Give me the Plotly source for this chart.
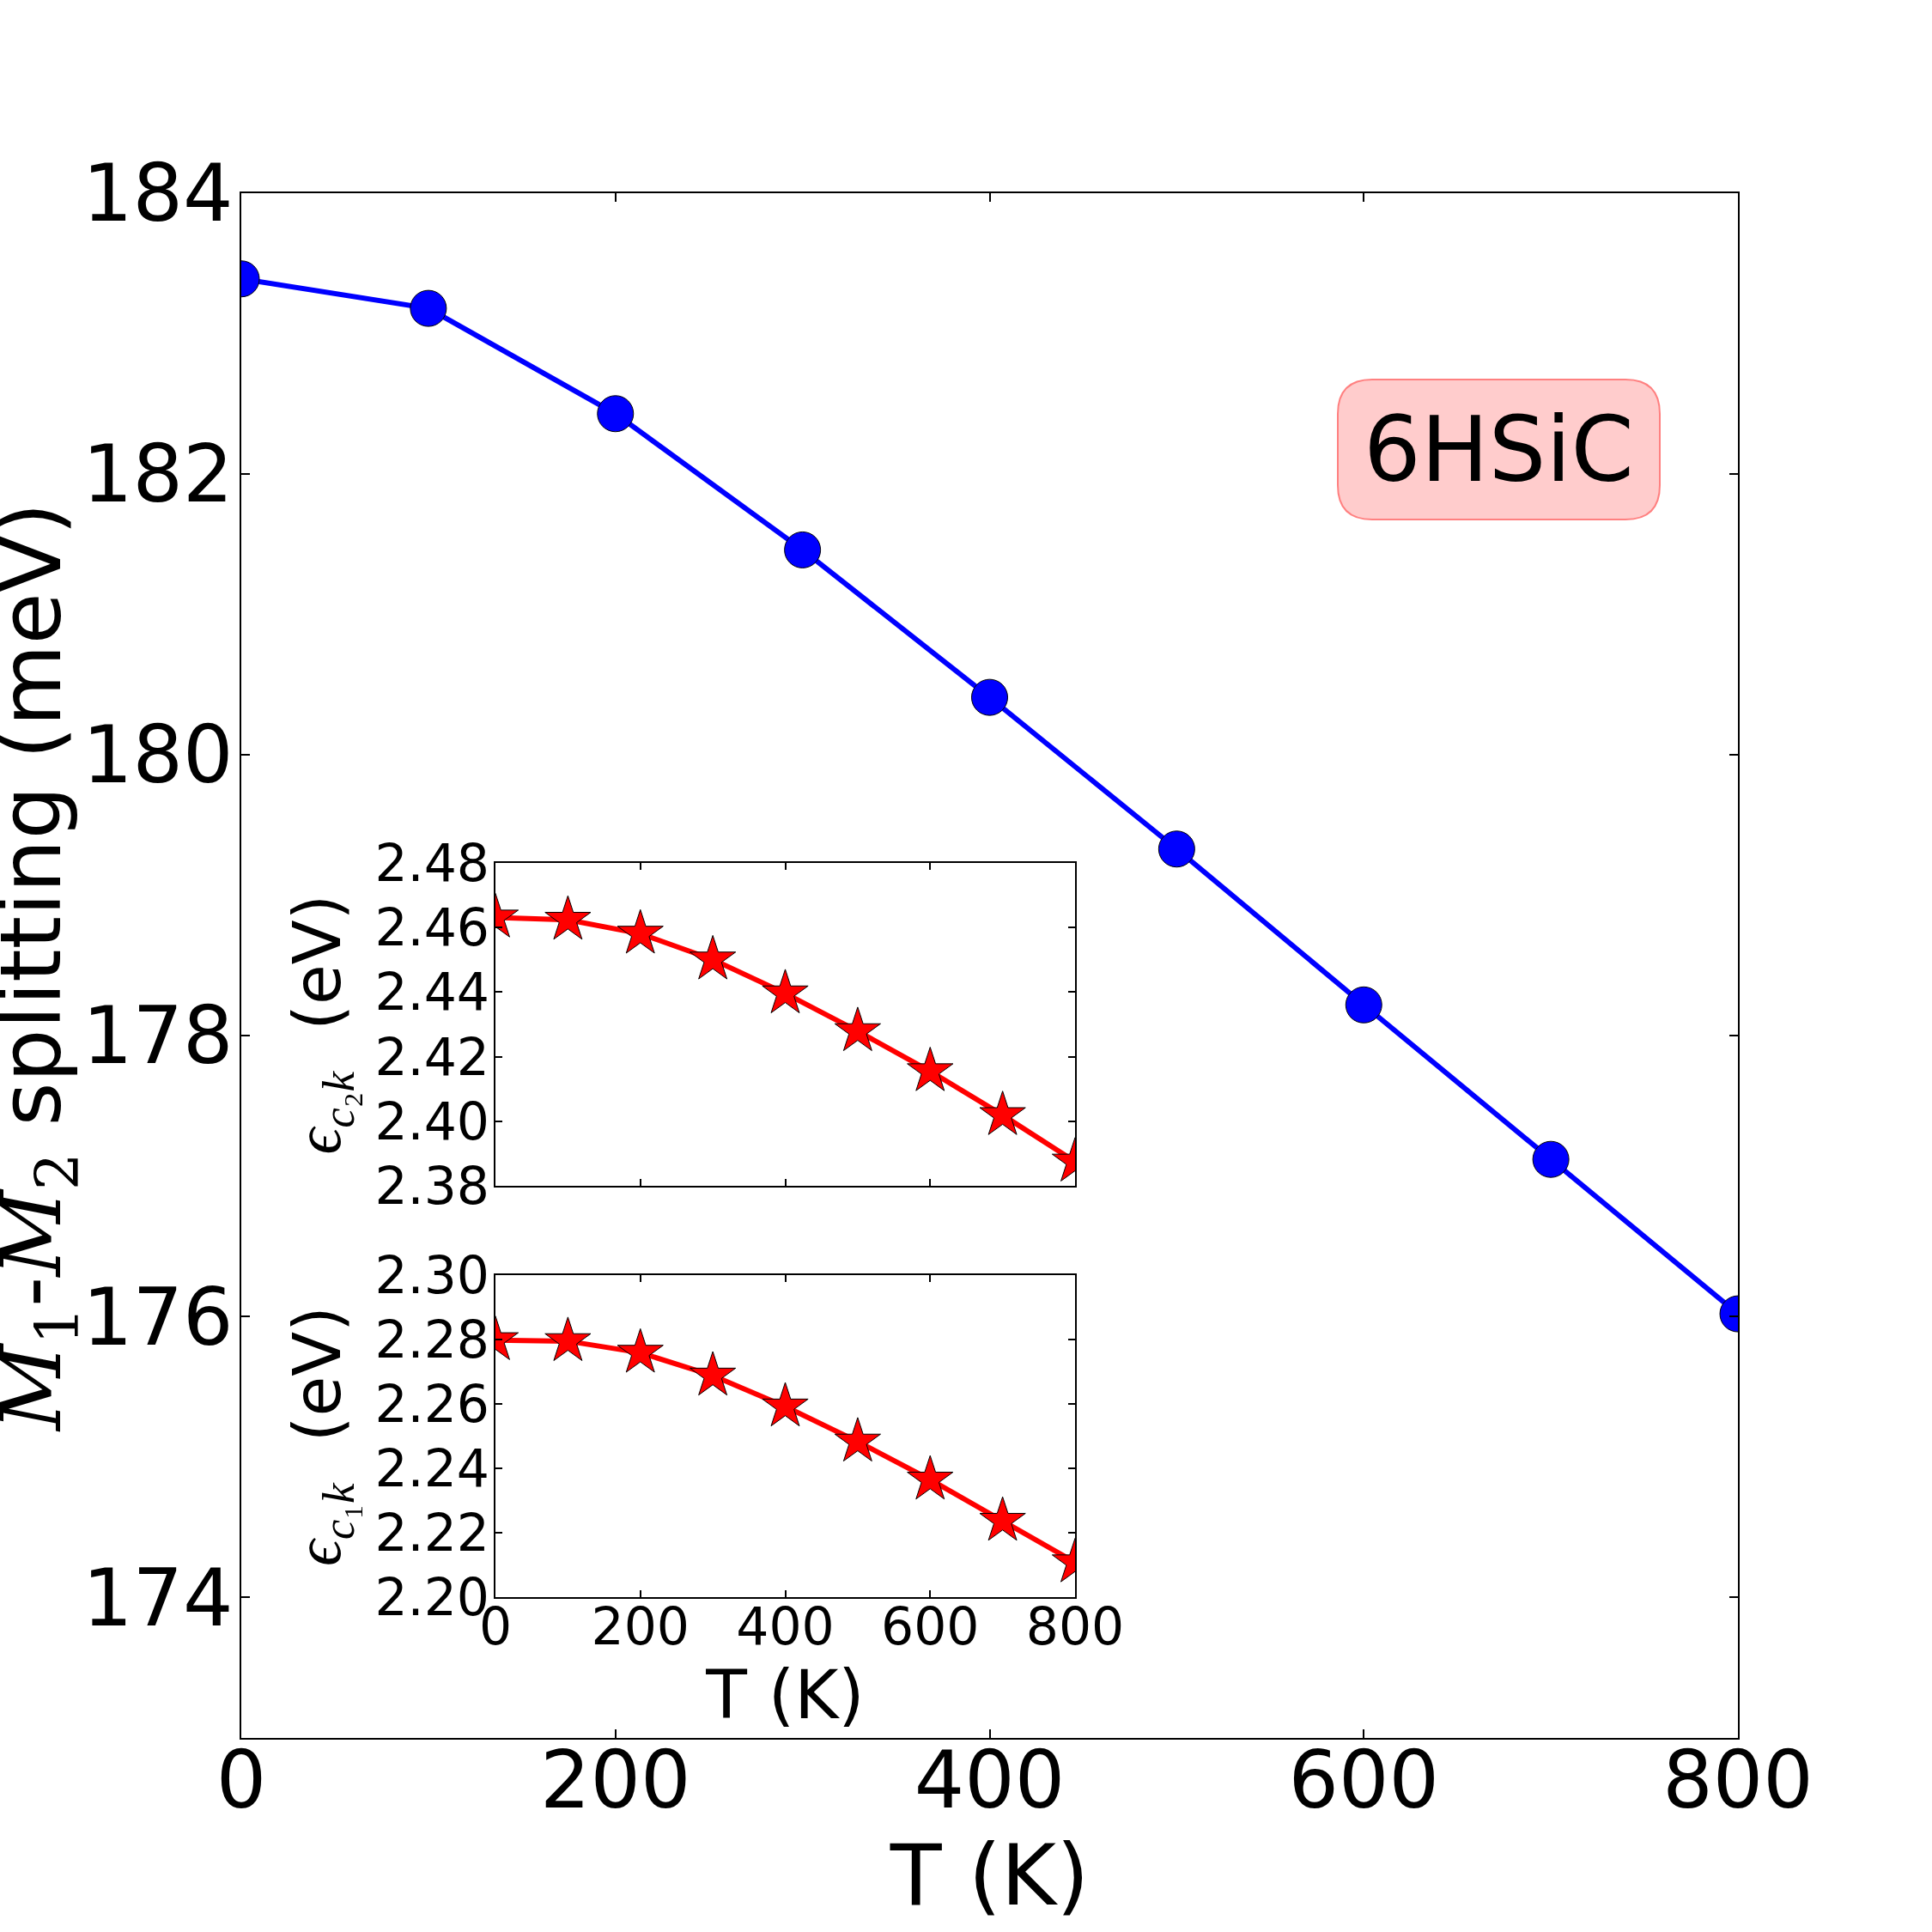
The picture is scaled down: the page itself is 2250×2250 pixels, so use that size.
import plotly.graph_objects as go

# ---------------- data ----------------
T = [0, 100, 200, 300, 400, 500, 600, 700, 800]
splitting_meV = [183.39, 183.18, 182.43, 181.46, 180.41, 179.33, 178.22, 177.12, 176.02]
eps_c2k = [2.4631, 2.4624, 2.4581, 2.4501, 2.4396, 2.4279, 2.4155, 2.4019, 2.3875]
eps_c1k = [2.2798, 2.2795, 2.2759, 2.2688, 2.2592, 2.2483, 2.2365, 2.2237, 2.2108]

main_xticks = [0, 200, 400, 600, 800]
main_yticks = [174, 176, 178, 180, 182, 184]
inset_xticks = [0, 200, 400, 600, 800]
inset1_yticks = [2.38, 2.40, 2.42, 2.44, 2.46, 2.48]
inset2_yticks = [2.20, 2.22, 2.24, 2.26, 2.28, 2.30]
label_text = "6HSiC"

W = H = 2250
FONT = "DejaVu Sans"
SERIF = "Liberation Serif"
SERIF_M = "DejaVu Serif"


def px_x(p):
    return p / W


def px_y(p):
    return 1 - p / H


fig = go.Figure()

fig.add_trace(go.Scatter(
    x=T, y=splitting_meV, mode="lines+markers",
    line=dict(color="#0000ff", width=6),
    marker=dict(color="#0000ff", size=42, line=dict(color="black", width=1)),
    xaxis="x", yaxis="y", showlegend=False,
))
fig.add_trace(go.Scatter(
    x=T, y=eps_c2k, mode="lines+markers",
    line=dict(color="#ff0000", width=6),
    marker=dict(color="#ff0000", size=40, symbol="star", line=dict(color="black", width=1)),
    xaxis="x2", yaxis="y2", showlegend=False,
))
fig.add_trace(go.Scatter(
    x=T, y=eps_c1k, mode="lines+markers",
    line=dict(color="#ff0000", width=6),
    marker=dict(color="#ff0000", size=40, symbol="star", line=dict(color="black", width=1)),
    xaxis="x3", yaxis="y3", showlegend=False,
))

axis_common = dict(
    showline=True, linecolor="black", linewidth=2, mirror="ticks",
    ticks="inside", tickcolor="black", tickwidth=1.5,
    showgrid=False, zeroline=False, automargin=False,
)

serif_M = lambda s: f'<span style="font-family:{SERIF_M}"><i>M</i><sub>{s}</sub></span>'
ylab_main = f'{serif_M(1)}-{serif_M(2)} splitting (meV)'
ylab_c2 = f'<span style="font-family:{SERIF}"><i>ϵ</i><sub><i>c</i>₂<i>k</i></sub></span>  (eV)'
ylab_c1 = f'<span style="font-family:{SERIF}"><i>ϵ</i><sub><i>c</i>₁<i>k</i></sub></span>  (eV)'

fig.update_layout(
    template="none",
    width=W, height=H, autosize=False,
    margin=dict(l=0, r=0, t=0, b=0, pad=0),
    paper_bgcolor="white", plot_bgcolor="white",
    font=dict(family=FONT, color="black"),
    xaxis=dict(
        domain=[px_x(281), px_x(2024)], range=[0, 800],
        tickvals=main_xticks, ticktext=[str(v) for v in main_xticks],
        tickfont=dict(size=92), ticklen=10, ticklabelstandoff=-31,
        title=dict(text="T (K)", font=dict(size=98), standoff=15),
        anchor="y", **axis_common,
    ),
    yaxis=dict(
        domain=[px_y(2024), px_y(225)], range=[173, 184],
        tickvals=main_yticks, ticktext=[str(v) for v in main_yticks],
        tickfont=dict(size=92), ticklen=10, ticklabelstandoff=-11,
        anchor="x", **axis_common,
    ),
    xaxis2=dict(
        domain=[px_x(577), px_x(1252)], range=[0, 800],
        tickvals=inset_xticks, showticklabels=False, ticklen=8,
        anchor="y2", **axis_common,
    ),
    yaxis2=dict(
        domain=[px_y(1381), px_y(1005)], range=[2.38, 2.48],
        tickvals=inset1_yticks, ticktext=[f"{v:.2f}" for v in inset1_yticks],
        tickfont=dict(size=60), ticklen=8, ticklabelstandoff=-7,
        title=dict(text=ylab_c2, font=dict(size=76), standoff=15),
        anchor="x2", **axis_common,
    ),
    xaxis3=dict(
        domain=[px_x(577), px_x(1252)], range=[0, 800],
        tickvals=inset_xticks, ticktext=[str(v) for v in inset_xticks],
        tickfont=dict(size=60), ticklen=8, ticklabelstandoff=-19,
        title=dict(text="T (K)", font=dict(size=78), standoff=13),
        anchor="y3", **axis_common,
    ),
    yaxis3=dict(
        domain=[px_y(1860), px_y(1485)], range=[2.20, 2.30],
        tickvals=inset2_yticks, ticktext=[f"{v:.2f}" for v in inset2_yticks],
        tickfont=dict(size=60), ticklen=8, ticklabelstandoff=-7,
        title=dict(text=ylab_c1, font=dict(size=76), standoff=15),
        anchor="x3", **axis_common,
    ),
)

# main y-axis title (placed as an annotation for exact positioning)
fig.add_annotation(text=ylab_main, textangle=-90, x=px_x(43), y=px_y(1127),
                   xref="paper", yref="paper", showarrow=False,
                   font=dict(size=98, family=FONT, color="black"),
                   xanchor="center", yanchor="middle")

# rounded label box (decoration), in paper fractions
bx0, bx1, by0, by1, r = 1558, 1933, 442, 605, 40
path = (
    f"M {px_x(bx0 + r)} {px_y(by0)} L {px_x(bx1 - r)} {px_y(by0)} "
    f"Q {px_x(bx1)} {px_y(by0)} {px_x(bx1)} {px_y(by0 + r)} "
    f"L {px_x(bx1)} {px_y(by1 - r)} "
    f"Q {px_x(bx1)} {px_y(by1)} {px_x(bx1 - r)} {px_y(by1)} "
    f"L {px_x(bx0 + r)} {px_y(by1)} "
    f"Q {px_x(bx0)} {px_y(by1)} {px_x(bx0)} {px_y(by1 - r)} "
    f"L {px_x(bx0)} {px_y(by0 + r)} "
    f"Q {px_x(bx0)} {px_y(by0)} {px_x(bx0 + r)} {px_y(by0)} Z"
)
fig.add_shape(type="path", path=path, xref="paper", yref="paper",
              fillcolor="#ffcccc", line=dict(color="#ff8080", width=2), layer="above")
fig.add_annotation(text=label_text, x=px_x((bx0 + bx1) / 2), y=px_y((by0 + by1) / 2),
                   xref="paper", yref="paper", showarrow=False,
                   font=dict(size=105, family=FONT, color="black"),
                   xanchor="center", yanchor="middle")

fig.write_html("out.html")
